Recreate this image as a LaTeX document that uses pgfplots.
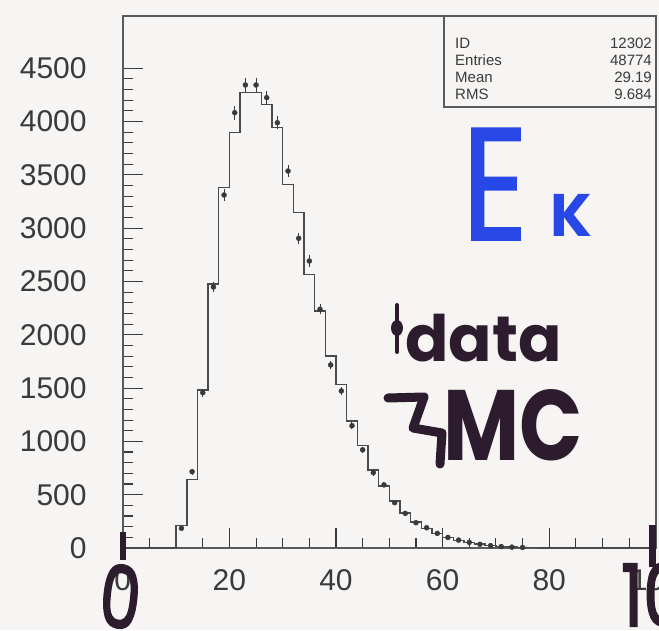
\documentclass[border=0pt]{standalone}
\usepackage{fontspec}
\setmainfont{Liberation Sans}
\newfontfamily\hand{Poppins}
\newfontfamily\handE{Poppins}[FakeBold=1.2]
\newfontfamily\handO{Poppins}[FakeBold=2.5]
\usepackage{pgfplots}
\usepackage{pgfplotstable}
\pgfplotsset{compat=1.18}
\definecolor{bg}{HTML}{F7F5F3}
\definecolor{frame}{HTML}{5A5A5A}
\definecolor{ink}{HTML}{3A3A3A}
\definecolor{histc}{HTML}{4A4A4A}
\definecolor{pen}{HTML}{2D1B2E}
\definecolor{blu}{HTML}{2747E6}
\pgfplotstableread{
x y
0 0
10 210
12 644
14 1480
16 2474
18 3380
20 3896
22 4271
24 4271
26 4162
28 3943
30 3411
32 3145
34 2566
36 2223
38 1801
40 1535
42 1190
44 960
46 730
48 580
50 440
52 330
54 245
56 185
58 135
60 100
62 72
64 52
66 36
68 25
70 16
72 10
74 6
76 4
78 2
80 0
100 0
}\mc
\pgfplotstableread{
x y e
11 185 14
13 716 27
15 1457 38
17 2448 49
19 3311 58
21 4083 64
23 4343 66
25 4343 66
27 4224 65
29 3989 63
31 3536 59
33 2905 54
35 2692 52
37 2239 47
39 1717 41
41 1473 38
43 1147 34
45 921 30
47 707 27
49 592 24
51 425 21
53 325 18
55 237 15
57 190 14
59 137 12
61 99 10
63 74 9
65 53 7
67 35 6
69 22 5
71 13 4
73 8 3
75 5 2
}\data
\begin{document}
\begin{tikzpicture}[x=1pt,y=1pt]
\fill[bg] (0,0) rectangle (659,630);
\useasboundingbox (0,0) rectangle (659,630);
\begin{axis}[
  at={(122.8pt,82pt)}, anchor=south west,
  width=533pt, height=532pt, scale only axis,
  xmin=0, xmax=100, ymin=0, ymax=4990,
  axis line style={draw=frame, line width=1.6pt},
  tick style={draw=ink, line width=1.1pt},
  tick align=inside, tickpos=left,
  major tick length=20pt, minor tick length=10pt,
  xtick={0,20,...,100}, minor x tick num=3,
  ytick={0,500,...,4500}, minor y tick num=4,
  scaled y ticks=false,
  /pgf/number format/assume math mode=true,
  /pgf/number format/set thousands separator={},
  ticklabel style={font=\fontsize{30}{30}\selectfont, text=ink, inner sep=0pt},
  yticklabel style={anchor=east, xshift=-36pt},
  xticklabel style={anchor=north, yshift=-21pt},
  clip=false,
]
\addplot[const plot, draw=histc, line width=1.5pt] table[x=x,y=y] {\mc};
\addplot[only marks, mark=*, mark size=2.5pt, color=ink,
  error bars/.cd, y dir=both, y explicit, error mark=none,
  error bar style={line width=1pt, ink}]
  table[x=x, y=y, y error=e] {\data};
\end{axis}
% stats box
\draw[frame, line width=1.4pt, fill=bg] (444,523) rectangle (655.8,614);
\begin{scope}[every node/.style={font=\fontsize{15}{15}\selectfont, text=ink, inner sep=0pt}]
\node[anchor=west] at (455,587) {ID};
\node[anchor=east] at (652,587) {12302};
\node[anchor=west] at (455,570) {Entries};
\node[anchor=east] at (652,570) {48774};
\node[anchor=west] at (455,553) {Mean};
\node[anchor=east] at (652,553) {29.19};
\node[anchor=west] at (455,536) {RMS};
\node[anchor=east] at (652,536) {9.684};
\end{scope}
% handwritten annotations
\node[anchor=base west, inner sep=0pt, text=blu, xscale=0.8, font=\handE\fontsize{160}{160}\selectfont] at (462,390) {E};
\node[anchor=base west, inner sep=0pt, text=blu, font=\hand\bfseries\fontsize{60}{60}\selectfont] at (550,393) {K};
\draw[pen, line width=4pt, line cap=round] (397,325) -- (397,278);
\fill[pen] (397,302) ellipse (6 and 8);
\node[anchor=base west, inner sep=0pt, text=pen, font=\hand\bfseries\fontsize{64}{64}\selectfont] at (405,268) {data};
\draw[pen, line width=9pt, line cap=round, line join=round] (388,232) -- (424,233) -- (413,202) -- (442,197) -- (440,166);
\node[anchor=base west, inner sep=0pt, text=pen, xscale=0.83, font=\hand\bfseries\fontsize{100}{100}\selectfont] at (443,170) {MC};
\node[anchor=base west, inner sep=0pt, text=pen, xscale=0.75, rotate=-8, font=\handO\fontsize{86}{86}\selectfont] at (97,6) {0};
\node[anchor=base west, inner sep=0pt, text=pen, xscale=0.8, font=\handO\fontsize{86}{86}\selectfont] at (621,4) {100};
\draw[pen, line width=6pt] (122.5,70) -- (122.5,98);
\draw[pen, line width=7pt] (652,63) -- (652,105);
\end{tikzpicture}
\end{document}
